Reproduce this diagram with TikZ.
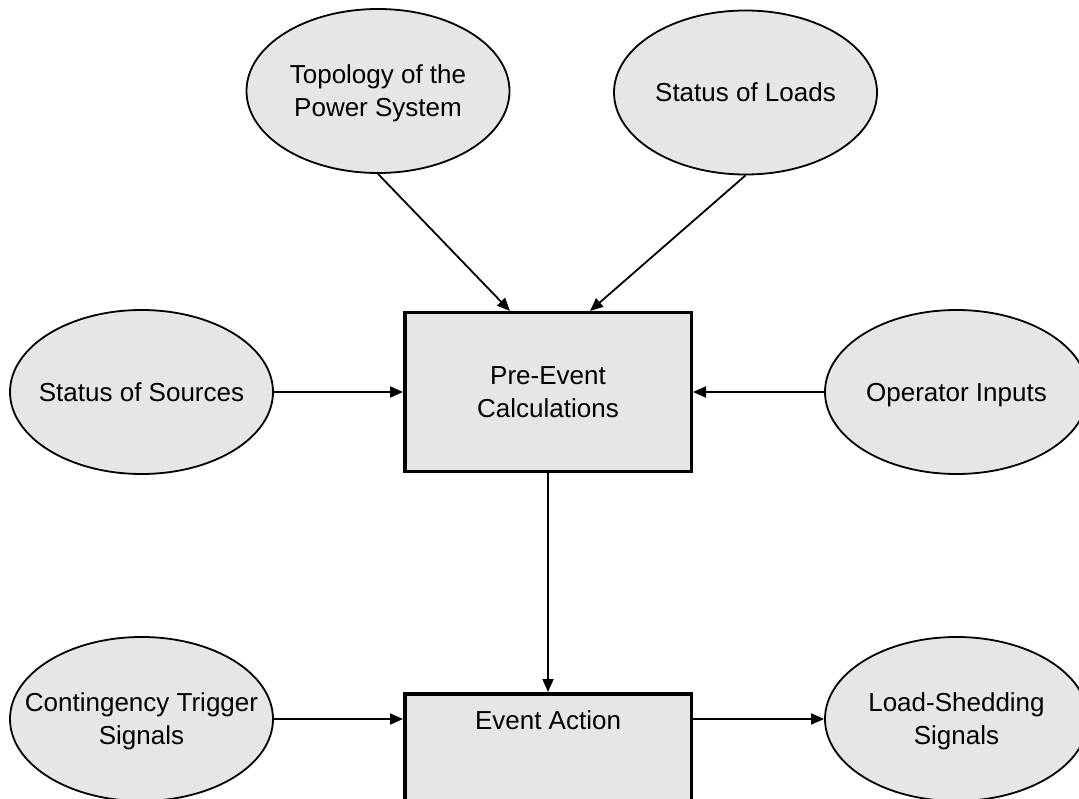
\documentclass[tikz,border=0pt]{standalone}
\usepackage{fontspec}
\setmainfont{Liberation Sans}
\usetikzlibrary{shapes.geometric,arrows.meta,calc}
\definecolor{shade}{HTML}{E6E6E6}
% centred text of zero size, so each shape keeps its fixed size
\newcommand{\cliptext}[1]{\raisebox{-9pt}[0pt][0pt]{\makebox[0pt]{\begin{tabular}{@{}c@{}}#1\end{tabular}}}}
\tikzset{
  src/.style={ellipse, draw, line width=1.8pt, fill=shade, minimum width=263pt,
    minimum height=164pt, inner sep=0pt,
    font=\fontsize{26}{33}\selectfont},
  procbox/.style={rectangle, draw, line width=3.5pt, fill=shade, minimum width=286.5pt,
    minimum height=158.5pt, inner sep=0pt,
    font=\fontsize{26}{33}\selectfont},
  flow/.style={line width=1.8pt, -{Triangle[length=13pt,width=11pt]}},
}
\begin{document}
\begin{tikzpicture}[x=1pt,y=-1pt]
  \useasboundingbox (0,0) rectangle (1079,799);

  % inputs
  \node[src] (topo) at (378,91)      {\cliptext{Topology of the\\Power System}};
  \node[src] (loads) at (745.5,92.5) {\cliptext{Status of Loads}};
  \node[src] (srcs) at (141.5,392)   {\cliptext{Status of Sources}};
  \node[src] (oper) at (956.5,392)   {\cliptext{Operator Inputs}};
  \node[src] (trig) at (141.5,719)   {\cliptext{Contingency Trigger\\Signals}};
  \node[src] (shed) at (956.5,719)   {\cliptext{Load-Shedding\\Signals}};

  % processing stages
  \node[procbox] (pre) at (548,392) {\cliptext{Pre-Event\\Calculations}};
  \node[procbox, anchor=north, text height=35.5pt, text depth=123pt,
        minimum height=0pt] (ev) at (548,692) {Event Action};

  % connections
  \draw[flow] (topo.south) -- ($(pre.north)+(-38,0)$);
  \draw[flow] (loads.south) -- ($(pre.north)+(42,0)$);
  \draw[flow] (srcs.east) -- (srcs.east -| pre.west);
  \draw[flow] (oper.west) -- (oper.west -| pre.east);
  \draw[flow] (pre.south) -- (ev.north);
  \draw[flow] (trig.east) -- (trig.east -| ev.west);
  \draw[flow] (shed.west -| ev.east) -- (shed.west);
\end{tikzpicture}
\end{document}
